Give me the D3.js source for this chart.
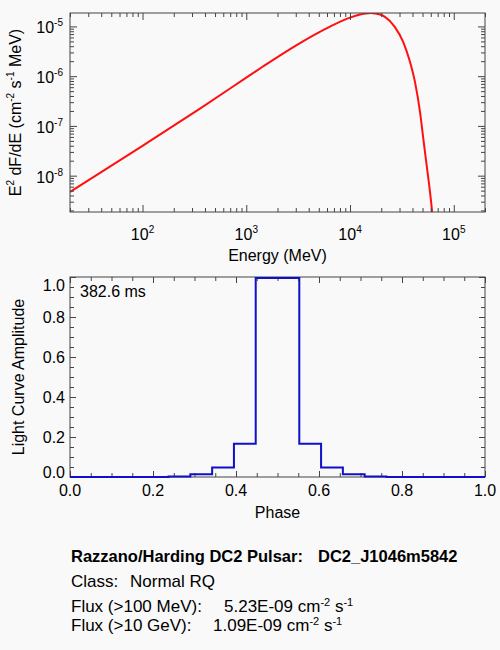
<!DOCTYPE html>
<html>
<head>
<meta charset="utf-8">
<script src="https://cdn.jsdelivr.net/npm/d3@7"></script>
<style>
  body { margin: 0; background: #f9f9f9; }
  svg { display: block; font-family: "Liberation Sans", Arial, Helvetica, sans-serif; }
</style>
</head>
<body>
<svg id="chart" width="500" height="650"></svg>
<script>
// Spectrum, E^2 dF/dE vs energy
const energyMeV = [20, 100, 358, 1000, 1460, 3060, 6410, 10000, 12500, 15800, 19500,
                   21700, 27100, 32600, 37900, 42300, 47300, 50900, 54800, 59000, 62100, 64000];
const sedFlux   = [4.69e-9, 3.98e-8, 2.23e-7, 9.33e-7, 1.58e-6, 4.22e-6, 9.9e-6, 1.50e-5, 1.73e-5, 1.86e-5, 1.73e-5,
                   1.55e-5, 9.7e-6, 4.85e-6, 1.92e-6, 7.6e-7, 1.9e-7, 5.5e-8, 1.61e-8, 4.7e-9, 1.72e-9, 8e-10];
const energyTicks = [1e2, 1e3, 1e4, 1e5];
const sedTicks = [1e-5, 1e-6, 1e-7, 1e-8];

// Light curve, step histogram
const phaseEdges = [0, 0.2375, 0.29, 0.3425, 0.395, 0.4475, 0.5525, 0.605, 0.6575, 0.71, 0.7625, 1.0];
const amplitude  = [0, 0.003, 0.014, 0.048, 0.166, 0.995, 0.166, 0.048, 0.014, 0.003, 0];
const phaseTicks = [0, 0.2, 0.4, 0.6, 0.8, 1.0];
const ampTicks = [0, 0.2, 0.4, 0.6, 0.8, 1.0];

const periodLabel = "382.6 ms";
const pulsarName = "DC2_J1046m5842";
const pulsarClass = "Normal RQ";
const flux100MeV = "5.23E-09";
const flux10GeV = "1.09E-09";

const axisColor = "#444";
const fontSize = 16;

const svg = d3.select("#chart");
svg.append("rect").attr("width", 500).attr("height", 650).attr("fill", "#f9f9f9");

const left = 70, right = 485;

// helper: text with superscript pieces [[text, isSup], ...]
const richText = (sel, parts, supSize = 10, rise = 7) => {
    let raised = false;
    parts.forEach(([t, sup]) => {
        const ts = sel.append("tspan").text(t);
        if (sup && !raised) { ts.attr("dy", -rise).attr("font-size", supSize); raised = true; }
        else if (sup) { ts.attr("font-size", supSize); }
        else if (raised) { ts.attr("dy", rise); raised = false; }
    });
};

const styleAxis = g => {
    g.select(".domain").remove();
    g.selectAll("line").attr("stroke", axisColor);
};

// ---------- Top panel: spectrum ----------
const sTop = 13, sBottom = 212;
const xE = d3.scaleLog().domain([20, 2e5]).range([left, right]);
const yE = d3.scaleLog().domain([1.86e-9, 1.86e-5]).range([sBottom, sTop]);

const minorLog = (domain) => {
    const out = [];
    for (let k = -12; k <= 8; k++) {
        for (let m = 2; m <= 9; m++) {
            const v = m * Math.pow(10, k);
            if (v >= domain[0] && v <= domain[1]) out.push(v);
        }
    }
    return out;
};

const topPanel = svg.append("g");

svg.append("clipPath").attr("id", "clip-top")
    .append("rect").attr("x", left).attr("y", sTop).attr("width", right - left).attr("height", sBottom - sTop);

topPanel.append("path")
    .datum(energyMeV.map((e, i) => [e, sedFlux[i]]))
    .attr("clip-path", "url(#clip-top)")
    .attr("fill", "none")
    .attr("stroke", "#ff1010")
    .attr("stroke-width", 2)
    .attr("d", d3.line().x(d => xE(d[0])).y(d => yE(d[1])).curve(d3.curveMonotoneX));

[[d3.axisBottom, sBottom], [d3.axisTop, sTop]].forEach(([ax, y]) => {
    topPanel.append("g").attr("transform", `translate(0,${y})`)
        .call(ax(xE).tickValues(energyTicks).tickSize(-7).tickFormat(""))
        .call(styleAxis);
    topPanel.append("g").attr("transform", `translate(0,${y})`)
        .call(ax(xE).tickValues(minorLog(xE.domain())).tickSize(-4).tickFormat(""))
        .call(styleAxis);
});
[[d3.axisLeft, left], [d3.axisRight, right]].forEach(([ax, x]) => {
    topPanel.append("g").attr("transform", `translate(${x},0)`)
        .call(ax(yE).tickValues(sedTicks).tickSize(-7).tickFormat(""))
        .call(styleAxis);
    topPanel.append("g").attr("transform", `translate(${x},0)`)
        .call(ax(yE).tickValues(minorLog(yE.domain())).tickSize(-4).tickFormat(""))
        .call(styleAxis);
});

topPanel.append("rect")
    .attr("x", left).attr("y", sTop).attr("width", right - left).attr("height", sBottom - sTop)
    .attr("fill", "none").attr("stroke", axisColor);

topPanel.selectAll(".xlab").data(energyTicks).join("text")
    .attr("class", "xlab")
    .attr("x", d => xE(d)).attr("y", 240)
    .attr("text-anchor", "middle").attr("font-size", fontSize)
    .each(function (d) { richText(d3.select(this), [["10"], [String(Math.round(Math.log10(d))), true]]); });

topPanel.selectAll(".ylab").data(sedTicks).join("text")
    .attr("class", "ylab")
    .attr("x", 63).attr("y", d => yE(d) + 7)
    .attr("text-anchor", "end").attr("font-size", fontSize)
    .each(function (d) { richText(d3.select(this), [["10"], [String(Math.round(Math.log10(d))), true]]); });

topPanel.append("text")
    .attr("x", (left + right) / 2).attr("y", 261)
    .attr("text-anchor", "middle").attr("font-size", fontSize)
    .text("Energy (MeV)");

topPanel.append("text")
    .attr("transform", `translate(21,${(sTop + sBottom) / 2}) rotate(-90)`)
    .attr("text-anchor", "middle").attr("font-size", fontSize)
    .call(t => richText(t, [["E"], ["2", true], [" dF/dE (cm"], ["-2", true], [" s"], ["-1", true], [" MeV)"]]));

// ---------- Bottom panel: light curve ----------
const lTop = 277, lBottom = 477;
const xP = d3.scaleLinear().domain([0, 1]).range([left, right]);
const yP = d3.scaleLinear().domain([0, 1]).range([lBottom, lTop]);

const lowPanel = svg.append("g");

[[d3.axisBottom, lBottom], [d3.axisTop, lTop]].forEach(([ax, y]) => {
    lowPanel.append("g").attr("transform", `translate(0,${y})`)
        .call(ax(xP).ticks(20).tickSize(-4).tickFormat(""))
        .call(styleAxis);
    lowPanel.append("g").attr("transform", `translate(0,${y})`)
        .call(ax(xP).tickValues(phaseTicks).tickSize(-6).tickFormat(""))
        .call(styleAxis);
});
[[d3.axisLeft, left], [d3.axisRight, right]].forEach(([ax, x]) => {
    lowPanel.append("g").attr("transform", `translate(${x},0)`)
        .call(ax(yP).ticks(20).tickSize(-4).tickFormat(""))
        .call(styleAxis);
    lowPanel.append("g").attr("transform", `translate(${x},0)`)
        .call(ax(yP).tickValues(ampTicks).tickSize(-6).tickFormat(""))
        .call(styleAxis);
});

lowPanel.append("rect")
    .attr("x", left).attr("y", lTop).attr("width", right - left).attr("height", lBottom - lTop)
    .attr("fill", "none").attr("stroke", axisColor);

const steps = phaseEdges.map((p, i) => [p, amplitude[Math.min(i, amplitude.length - 1)]]);
lowPanel.append("path")
    .datum(steps)
    .attr("fill", "none")
    .attr("stroke", "#1010c8")
    .attr("stroke-width", 2)
    .attr("d", d3.line().x(d => xP(d[0])).y(d => yP(d[1])).curve(d3.curveStepAfter));

lowPanel.selectAll(".xlab").data(phaseTicks).join("text")
    .attr("class", "xlab")
    .attr("x", d => xP(d)).attr("y", 496)
    .attr("text-anchor", "middle").attr("font-size", fontSize)
    .text(d3.format(".1f"));

// end labels sit a little inside the frame, like the original
lowPanel.selectAll(".ylab").data(ampTicks).join("text")
    .attr("class", "ylab")
    .attr("x", 65)
    .attr("y", d => yP(d) + 6 + (d === 1 ? 8 : d === 0 ? -5 : 0))
    .attr("text-anchor", "end").attr("font-size", fontSize)
    .text(d3.format(".1f"));

lowPanel.append("text")
    .attr("x", (left + right) / 2).attr("y", 518)
    .attr("text-anchor", "middle").attr("font-size", fontSize)
    .text("Phase");

lowPanel.append("text")
    .attr("transform", `translate(24,${(lTop + lBottom) / 2}) rotate(-90)`)
    .attr("text-anchor", "middle").attr("font-size", fontSize)
    .text("Light Curve Amplitude");

lowPanel.append("text")
    .attr("x", 80).attr("y", 297)
    .attr("font-size", 16)
    .text(periodLabel);

// ---------- Info block ----------
const info = svg.append("g").attr("font-size", 17);

info.append("text").attr("x", 71).attr("y", 562).attr("font-weight", "bold").attr("font-size", 16.5)
    .text("Razzano/Harding DC2 Pulsar:");
info.append("text").attr("x", 318).attr("y", 562).attr("font-weight", "bold").attr("font-size", 16.5)
    .text(pulsarName);

info.append("text").attr("x", 71).attr("y", 587).text("Class:");
info.append("text").attr("x", 130).attr("y", 587).text(pulsarClass);

const fluxRows = [
    ["Flux (>100 MeV):", flux100MeV, 224, 612],
    ["Flux (>10 GeV):", flux10GeV, 213, 631]
];
fluxRows.forEach(([lab, val, vx, y]) => {
    info.append("text").attr("x", 71).attr("y", y).text(lab);
    info.append("text").attr("x", vx).attr("y", y)
        .call(t => richText(t, [[val + " cm"], ["-2", true], [" s"], ["-1", true]], 11, 6));
});
</script>
</body>
</html>
